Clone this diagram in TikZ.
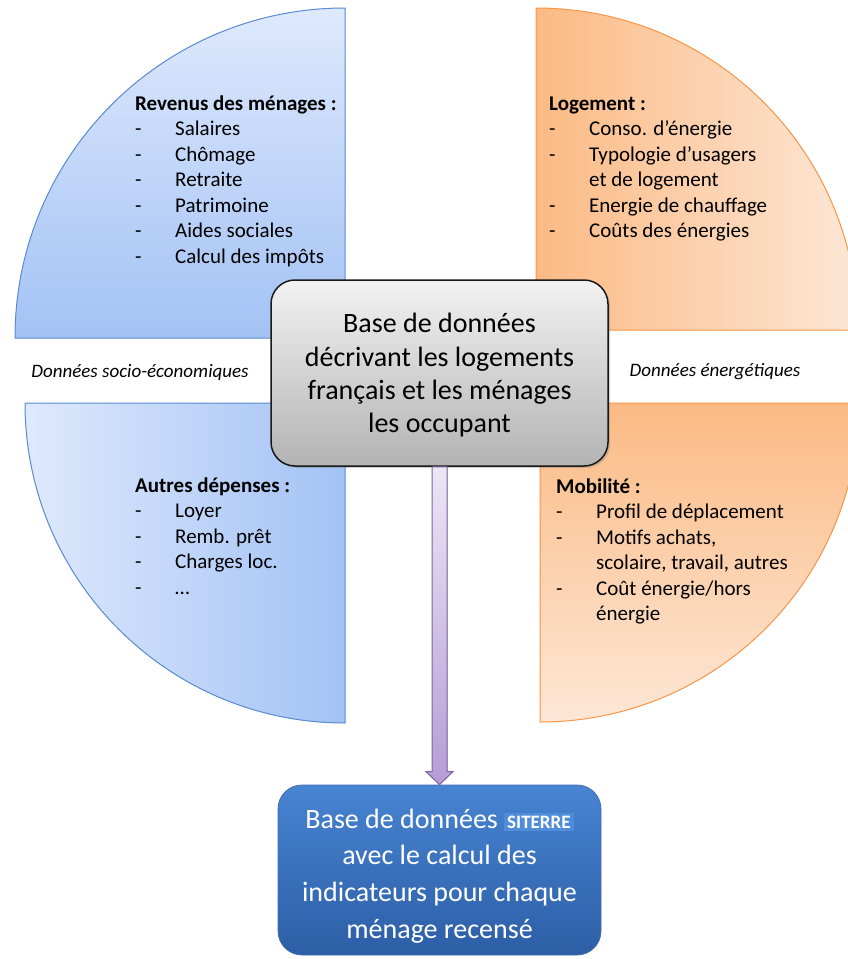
\documentclass[tikz,border=0pt]{standalone}
\usepackage{fontspec}
\setmainfont{Carlito}
\usetikzlibrary{calc,shadows}
\definecolor{qbluelight}{HTML}{DEE9FC}
\definecolor{qbluedark}{HTML}{A3C2F5}
\definecolor{qblueline}{HTML}{5A8AD0}
\definecolor{qorangedark}{HTML}{FBBA84}
\definecolor{qorangelight}{HTML}{FDE7D6}
\definecolor{qorangeline}{HTML}{F79646}
\definecolor{dbtop}{HTML}{F2F2F2}
\definecolor{dbbottom}{HTML}{B3B3B3}
\definecolor{restop}{HTML}{4784D2}
\definecolor{resbottom}{HTML}{2D5EA6}
\definecolor{siterrebg}{HTML}{4F8CDA}
\definecolor{arrowtop}{HTML}{ECE6F5}
\definecolor{arrowbottom}{HTML}{B49DD6}
\definecolor{arrowline}{HTML}{8064A2}
\tikzstyle{quarter} = [line width=1pt, line join=round]
\tikzstyle{blueq} = [quarter, draw=qblueline]
\tikzstyle{orangeq} = [quarter, draw=qorangeline]
\tikzstyle{listnode} = [anchor=base west, inner sep=0pt, font=\fontsize{21}{25.5}\selectfont]
\tikzstyle{sidelabel} = [inner sep=0pt, font=\fontsize{19}{22}\selectfont\itshape]
\tikzstyle{dbbox} = [rectangle, rounded corners=24pt, minimum width=337pt, minimum height=186pt, align=center, draw=black!90, line width=1.5pt, top color=dbtop, bottom color=dbbottom, font=\fontsize{28}{33.3}\selectfont, drop shadow={opacity=0.35, shadow xshift=2pt, shadow yshift=-2pt}]
\tikzstyle{resultbox} = [rectangle, rounded corners=24pt, minimum width=323pt, minimum height=170pt, align=center, draw=resbottom!90, line width=0.8pt, top color=restop, bottom color=resbottom, text=white, font=\fontsize{28}{36.7}\selectfont]
\tikzstyle{flowarrow} = [draw=arrowline, line width=1pt, line join=miter, top color=arrowtop, bottom color=arrowbottom]
\newcommand{\quadlist}[2]{\begin{tabular}[t]{@{}p{40pt}@{}l@{}}\multicolumn{2}{@{}l@{}}{\textbf{#1}}\\ #2\end{tabular}}

\begin{document}
\begin{tikzpicture}[x=1pt, y=1pt]
    \fill[white] (0,0) rectangle (848,-959);
    \useasboundingbox (0,0) rectangle (848,-959);
    \clip (0,0) rectangle (848,-959);

    % quarter discs
    \draw[blueq, top color=qbluelight, bottom color=qbluedark] (345,-338) -- (15,-338) arc[start angle=180, end angle=90, radius=330pt] -- cycle;
    \draw[orangeq, left color=qorangedark, right color=qorangelight] (536,-330) -- (536,-8) arc[start angle=90, end angle=0, radius=322pt] -- cycle;
    \draw[blueq, left color=qbluelight, right color=qbluedark] (345,-403) -- (25,-403) arc[start angle=180, end angle=270, radius=320pt] -- cycle;
    \draw[orangeq, top color=qorangedark, bottom color=qorangelight] (540,-403) -- (540,-722) arc[start angle=270, end angle=360, radius=319pt] -- cycle;

    \node (revenus) [listnode] at (135,-110) {\quadlist{Revenus des ménages :}{- & Salaires\\ - & Chômage\\ - & Retraite\\ - & Patrimoine\\ - & Aides sociales\\ - & Calcul des impôts}};
    \node (logement) [listnode] at (549,-110) {\quadlist{Logement :}{- & Conso. d’énergie\\ - & Typologie d’usagers\\ & et de logement\\ - & Energie de chauffage\\ - & Coûts des énergies}};
    \node (depenses) [listnode] at (135,-492) {\quadlist{Autres dépenses :}{- & Loyer\\ - & Remb. prêt\\ - & Charges loc.\\ - & …}};
    \node (mobilite) [listnode] at (556,-493) {\quadlist{Mobilité :}{- & Profil de déplacement\\ - & Motifs achats,\\ & scolaire, travail, autres\\ - & Coût énergie/hors\\ & énergie}};

    \node (socio) [sidelabel] at (140,-372) {Données socio-économiques};
    \node (energie) [sidelabel] at (715,-372) {Données énergétiques};

    \node (base) [dbbox] at (439.5,-373) {\rule{0pt}{24pt}Base de données\\décrivant les logements\\français et les ménages\\les occupant};
    \node (siterre) [resultbox] at (439.5,-870) {\rule{0pt}{31pt}Base de données {\fboxsep=3pt\colorbox{siterrebg}{\fontsize{19}{20}\selectfont\textbf{SITERRE}}}\\avec le calcul des\\indicateurs pour chaque\\ménage recensé};

    \filldraw[flowarrow] ($(base.south)+(-7.5,0)$) -- ($(siterre.north)+(-7.5,13)$) -- ($(siterre.north)+(-13.5,13)$) -- (siterre.north) -- ($(siterre.north)+(13.5,13)$) -- ($(siterre.north)+(7.5,13)$) -- ($(base.south)+(7.5,0)$) -- cycle;
\end{tikzpicture}
\end{document}
